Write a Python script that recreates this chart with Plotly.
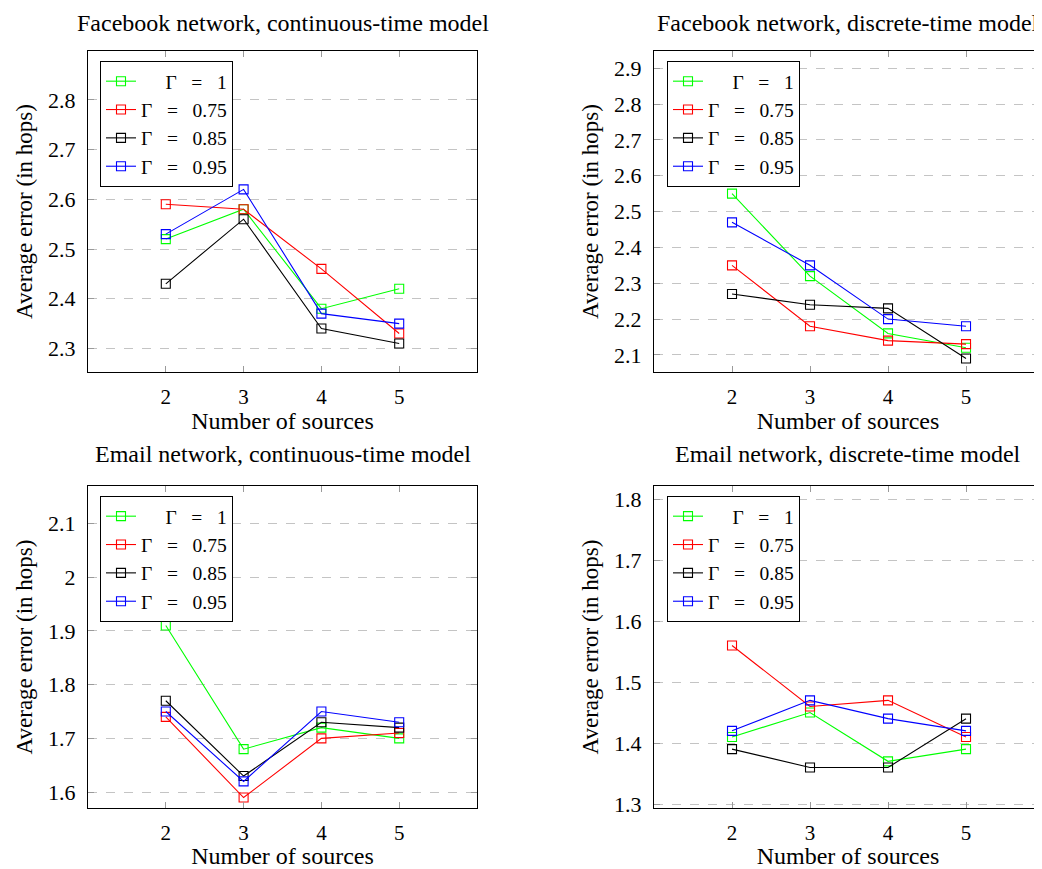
import plotly.graph_objects as go

x_sources = [2, 3, 4, 5]
series_names = ["\u2002\u2002\u00a0Γ\u2002\u00a0=\u2002\u00a01",
                "Γ\u2002\u00a0=\u2002\u00a00.75",
                "Γ\u2002\u00a0=\u2002\u00a00.85",
                "Γ\u2002\u00a0=\u2002\u00a00.95"]
series_colors = ["#00ff00", "#ff0000", "#000000", "#0000ff"]

# Facebook network, continuous-time model
fb_cont_g1 = [2.52, 2.58, 2.38, 2.42]
fb_cont_g075 = [2.59, 2.58, 2.46, 2.33]
fb_cont_g085 = [2.43, 2.56, 2.34, 2.31]
fb_cont_g095 = [2.53, 2.62, 2.37, 2.35]

# Facebook network, discrete-time model
fb_disc_g1 = [2.55, 2.32, 2.16, 2.12]
fb_disc_g075 = [2.35, 2.18, 2.14, 2.13]
fb_disc_g085 = [2.27, 2.24, 2.23, 2.09]
fb_disc_g095 = [2.47, 2.35, 2.20, 2.18]

# Email network, continuous-time model
em_cont_g1 = [1.91, 1.68, 1.72, 1.70]
em_cont_g075 = [1.74, 1.59, 1.70, 1.71]
em_cont_g085 = [1.77, 1.63, 1.73, 1.72]
em_cont_g095 = [1.75, 1.62, 1.75, 1.73]

# Email network, discrete-time model
em_disc_g1 = [1.41, 1.45, 1.37, 1.39]
em_disc_g075 = [1.56, 1.46, 1.47, 1.41]
em_disc_g085 = [1.39, 1.36, 1.36, 1.44]
em_disc_g095 = [1.42, 1.47, 1.44, 1.42]

panel_titles = [
    "Facebook network, continuous-time model",
    "Facebook network, discrete-time model",
    "Email network, continuous-time model",
    "Email network, discrete-time model",
]
panel_data = [
    [fb_cont_g1, fb_cont_g075, fb_cont_g085, fb_cont_g095],
    [fb_disc_g1, fb_disc_g075, fb_disc_g085, fb_disc_g095],
    [em_cont_g1, em_cont_g075, em_cont_g085, em_cont_g095],
    [em_disc_g1, em_disc_g075, em_disc_g085, em_disc_g095],
]
y_ranges = [[2.252, 2.899], [2.0515, 2.949], [1.57, 2.17], [1.293, 1.822]]
y_ticks = [
    [2.3, 2.4, 2.5, 2.6, 2.7, 2.8],
    [2.1, 2.2, 2.3, 2.4, 2.5, 2.6, 2.7, 2.8, 2.9],
    [1.6, 1.7, 1.8, 1.9, 2.0, 2.1],
    [1.3, 1.4, 1.5, 1.6, 1.7, 1.8],
]
y_ticktext = [
    ["2.3", "2.4", "2.5", "2.6", "2.7", "2.8"],
    ["2.1", "2.2", "2.3", "2.4", "2.5", "2.6", "2.7", "2.8", "2.9"],
    ["1.6", "1.7", "1.8", "1.9", "2", "2.1"],
    ["1.3", "1.4", "1.5", "1.6", "1.7", "1.8"],
]

S = 8  # default page margin around the figure
W, H = 1042 - S, 869 - S
FONT = "Liberation Serif"

# screen-pixel boxes (left, right, top, bottom)
boxes = [
    (88, 477, 50.7, 372.3),
    (654, 1042, 50.7, 372.3),
    (88, 477, 485.7, 808.3),
    (654, 1042, 485.7, 808.3),
]
x_ranges = [[1, 6], [1, 5.974], [1, 6], [1, 5.974]]
title_centers = [282.5, 848, 282.5, 848]
title_tops = [None, None, 439, 439]
legend_pos = [(100, 61), (667, 61), (100, 496), (667, 496)]

fig = go.Figure()
layout = dict(
    width=W, height=H,
    margin=dict(l=0, r=0, t=0, b=0),
    paper_bgcolor="white", plot_bgcolor="white",
    font=dict(family=FONT, size=21, color="black"),
    showlegend=True,
)
annotations = []
for i in range(4):
    ax = "" if i == 0 else str(i + 1)
    xa, ya = "x" + ax, "y" + ax
    lg = "legend" if i == 0 else "legend" + str(i + 1)
    for s in range(4):
        fig.add_trace(go.Scatter(
            x=x_sources, y=panel_data[i][s], name=series_names[s],
            mode="lines+markers",
            line=dict(color=series_colors[s], width=1.1),
            marker=dict(symbol="square-open", size=9, color=series_colors[s], line=dict(width=1.1)),
            xaxis=xa, yaxis=ya, legend=lg,
        ))
    l, r, t, b = boxes[i]
    l, r, t, b = l - S, r - S, t - S, b - S
    right_cut = (i % 2 == 1)
    layout["xaxis" + ax] = dict(
        domain=[l / W, min(r / W, 1.0)], range=x_ranges[i], anchor=ya,
        tickvals=x_sources, ticktext=[str(v) for v in x_sources],
        ticks="inside", ticklen=6, tickcolor="#9a9a9a", tickwidth=1,
        showline=True, linecolor="black", linewidth=1, mirror="ticks",
        showgrid=False, zeroline=False, automargin=False,
        tickfont=dict(size=21, family=FONT), ticklabelstandoff=5,
        title=dict(text="Number of sources", font=dict(size=24, family=FONT), standoff=3),
    )
    layout["yaxis" + ax] = dict(
        domain=[(H - b) / H, (H - t) / H], range=y_ranges[i], anchor=xa,
        tickvals=y_ticks[i], ticktext=y_ticktext[i],
        ticks="inside", ticklen=6, tickcolor="#9a9a9a", tickwidth=1,
        showline=True, linecolor="black", linewidth=1,
        mirror=False if right_cut else "ticks",
        showgrid=True, gridcolor="#c4c4c4", griddash="dash", gridwidth=1,
        zeroline=False, automargin=False,
        tickfont=dict(size=22, family=FONT), ticklabelstandoff=7,
        title=dict(text="Average error (in hops)", font=dict(size=23, family=FONT), standoff=9),
    )
    lx, ly = legend_pos[i]
    lx, ly = lx - S, ly - S
    layout[lg] = dict(
        x=lx / W, y=(H - ly) / H, xanchor="left", yanchor="top",
        bgcolor="white", bordercolor="black", borderwidth=1,
        font=dict(size=19.5, family=FONT), tracegroupgap=0,
        itemwidth=30,
    )
    if title_tops[i] is None:
        ty = 1.0
    else:
        ty = (H - (title_tops[i] - S)) / H
    annotations.append(dict(
        text=panel_titles[i], x=(title_centers[i] - S) / W,
        y=ty, xref="paper", yref="paper",
        xanchor="center", yanchor="top", showarrow=False,
        font=dict(size=24, family=FONT),
    ))
layout["annotations"] = annotations
fig.update_layout(**layout)
fig.write_html("out.html")
